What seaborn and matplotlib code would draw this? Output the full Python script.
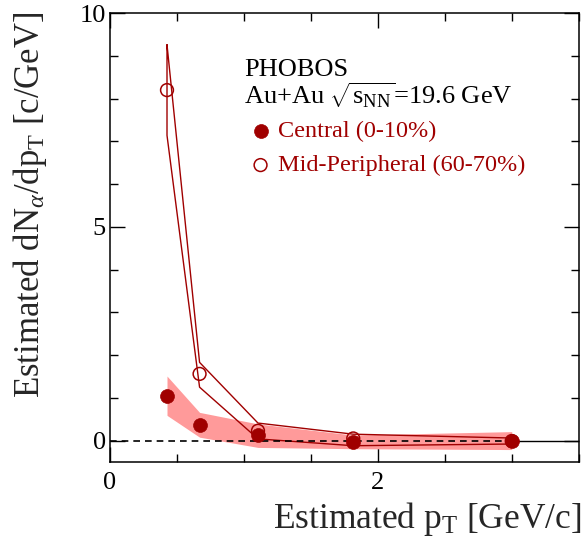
import matplotlib
matplotlib.use("Agg")
import matplotlib.pyplot as plt
from matplotlib.ticker import MultipleLocator
import seaborn as sns
import numpy as np
import pandas as pd

# values
pt = [0.427, 0.67, 1.106, 1.817, 3.0]

central = [1.05, 0.37, 0.12, -0.04, -0.02]
central_hi = [1.51, 0.66, 0.39, 0.13, 0.21]
central_lo = [0.59, 0.08, -0.16, -0.19, -0.21]

periph = [8.2, 1.56, 0.23, 0.05, -0.01]
periph_hi = [9.26, 1.83, 0.41, 0.15, 0.06]
periph_lo = [7.14, 1.25, 0.04, -0.12, -0.08]

DARK_RED = "#a00000"
BAND = "#ff9a9a"

sns.set_theme(style="ticks")
plt.rcParams["font.family"] = ["Liberation Serif", "DejaVu Serif"]
plt.rcParams["mathtext.fontset"] = "custom"
plt.rcParams["mathtext.rm"] = "Liberation Serif"
plt.rcParams["mathtext.it"] = "Liberation Serif:italic"
plt.rcParams["mathtext.bf"] = "Liberation Serif:bold"

df = pd.DataFrame({"pt": pt, "central": central, "periph": periph})

fig = plt.figure(figsize=(5.84, 5.48), dpi=100)
ax = fig.add_axes([0.188, 0.157, 0.803, 0.819])

# central band (filled)
ax.fill_between(pt, central_lo, central_hi, color=BAND, lw=0, zorder=1)

# mid-peripheral band (outline only)
poly_x = pt + pt[::-1] + [pt[0]]
poly_y = periph_hi + periph_lo[::-1] + [periph_hi[0]]
ax.plot(poly_x, poly_y, color=DARK_RED, lw=1.0, zorder=2)

# zero line
ax.plot([0, pt[-1]], [0, 0], color="black", lw=1.2, ls=(0, (4, 3)), zorder=3)
ax.plot([pt[-1], 3.5], [0, 0], color="black", lw=1.0, zorder=3)

sns.scatterplot(data=df, x="pt", y="periph", ax=ax, marker="o", s=85,
                facecolor="none", edgecolor=DARK_RED, linewidth=1.1,
                label="Mid-Peripheral (60-70%)", zorder=4)
sns.scatterplot(data=df, x="pt", y="central", ax=ax, marker="o", s=100,
                color=DARK_RED, edgecolor=DARK_RED, linewidth=0.5,
                label="Central (0-10%)", zorder=5)

ax.set_xlim(0, 3.5)
ax.set_ylim(-0.5, 10)
ax.xaxis.set_major_locator(MultipleLocator(2))
ax.xaxis.set_minor_locator(MultipleLocator(0.5))
ax.yaxis.set_major_locator(MultipleLocator(5))
ax.yaxis.set_minor_locator(MultipleLocator(1))
ax.tick_params(which="both", direction="in", top=True, right=True, width=1.0, colors="black")
ax.tick_params(which="major", length=11)
ax.tick_params(which="minor", length=6)
ax.tick_params(axis="x", which="major", labelsize=19, pad=7)
ax.tick_params(axis="y", which="major", labelsize=19, pad=3)
for s in ax.spines.values():
    s.set_linewidth(1.1)
    s.set_color("black")

ax.set_xlabel(r"Estimated p$_{\rm T}$ [GeV/c]", fontsize=25.5, loc="right")
ax.set_ylabel(r"Estimated dN$_{\alpha}$/dp$_{\rm T}$ [c/GeV]", fontsize=25, loc="top")
ax.xaxis.set_label_coords(1.006, -0.085)
ax.yaxis.set_label_coords(-0.13, 1.003)

ax.text(0.286, 0.86, "PHOBOS", transform=ax.transAxes, fontsize=19, color="black")
ax.text(0.286, 0.797, r"Au+Au $\sqrt{\mathrm{s}_{\mathrm{NN}}}$=19.6 GeV", transform=ax.transAxes,
        fontsize=19, color="black")

handles, labels = ax.get_legend_handles_labels()
order = [labels.index("Central (0-10%)"), labels.index("Mid-Peripheral (60-70%)")]
leg = ax.legend([handles[i] for i in order], [labels[i] for i in order],
                loc="upper left", bbox_to_anchor=(0.28, 0.783), frameon=False,
                fontsize=17.5, handlelength=0.8, handletextpad=0.3,
                labelspacing=0.5, borderaxespad=0, labelcolor=DARK_RED)

fig.savefig("out.png", dpi=100)
plt.close(fig)
